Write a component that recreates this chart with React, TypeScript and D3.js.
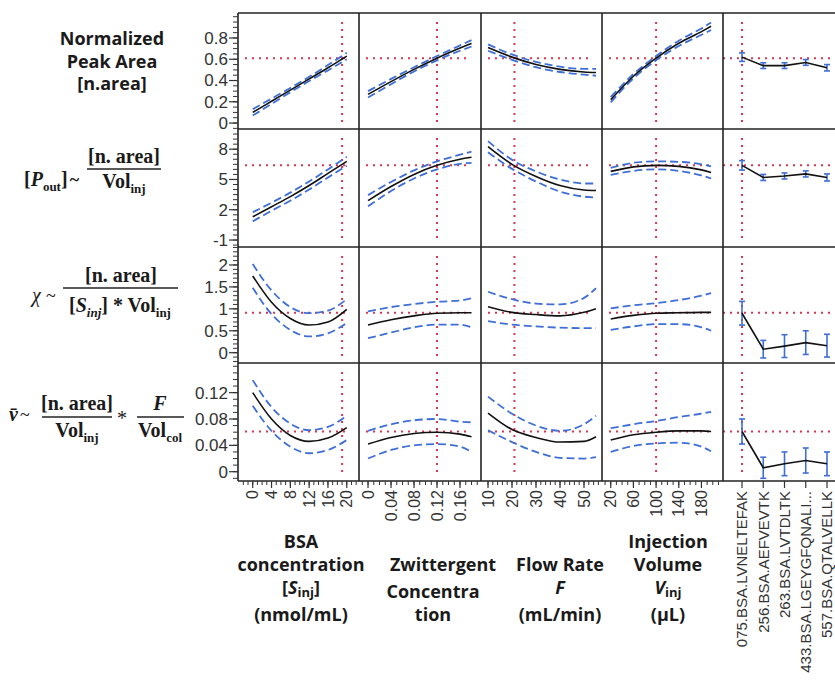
import React from "react";
import * as d3 from "d3";

// factor grids (x values where the profile traces were read)
const bsaX = [0, 4, 8, 12, 16, 20];
const zwitX = [0, 0.04, 0.08, 0.12, 0.16, 0.18];
const flowX = [10, 20, 30, 40, 50, 55];
const injX = [20, 60, 100, 140, 180, 197];
const peptides = ["075.BSA.LVNELTEFAK", "256.BSA.AEFVEVTK", "263.BSA.LVTDLTK", "433.BSA.LGEYGFQNALI...", "557.BSA.QTALVELLK"];

// row 1: normalized peak area
const area_bsa = [0.1, 0.205, 0.31, 0.415, 0.52, 0.63];
const area_bsa_hi = [0.13, 0.23, 0.33, 0.435, 0.545, 0.66];
const area_bsa_lo = [0.07, 0.18, 0.29, 0.395, 0.495, 0.6];
const area_zwit = [0.27, 0.39, 0.505, 0.61, 0.705, 0.75];
const area_zwit_hi = [0.3, 0.415, 0.525, 0.63, 0.73, 0.78];
const area_zwit_lo = [0.24, 0.365, 0.485, 0.59, 0.68, 0.72];
const area_flow = [0.71, 0.62, 0.55, 0.505, 0.48, 0.475];
const area_flow_hi = [0.74, 0.645, 0.575, 0.53, 0.51, 0.51];
const area_flow_lo = [0.68, 0.595, 0.525, 0.48, 0.455, 0.445];
const area_inj = [0.22, 0.44, 0.61, 0.75, 0.86, 0.91];
const area_inj_hi = [0.245, 0.46, 0.63, 0.775, 0.89, 0.945];
const area_inj_lo = [0.195, 0.42, 0.59, 0.725, 0.83, 0.875];
const area_pep = [0.62, 0.54, 0.54, 0.57, 0.52];
const area_pep_err = [0.04, 0.027, 0.027, 0.027, 0.03];

// row 2: [P_out]
const pout_bsa = [1.3, 2.3, 3.3, 4.4, 5.6, 6.8];
const pout_bsa_hi = [1.75, 2.7, 3.7, 4.8, 6.0, 7.25];
const pout_bsa_lo = [0.85, 1.9, 2.9, 4.0, 5.2, 6.35];
const pout_zwit = [2.9, 4.3, 5.5, 6.4, 7.0, 7.2];
const pout_zwit_hi = [3.45, 4.75, 5.9, 6.8, 7.45, 7.75];
const pout_zwit_lo = [2.35, 3.85, 5.1, 6.0, 6.55, 6.65];
const pout_flow = [8.25, 6.5, 5.3, 4.4, 3.95, 3.9];
const pout_flow_hi = [8.8, 6.95, 5.8, 5.0, 4.6, 4.6];
const pout_flow_lo = [7.7, 6.05, 4.8, 3.8, 3.3, 3.2];
const pout_inj = [5.8, 6.25, 6.4, 6.3, 5.95, 5.7];
const pout_inj_hi = [6.15, 6.65, 6.8, 6.75, 6.5, 6.3];
const pout_inj_lo = [5.45, 5.85, 6.0, 5.85, 5.4, 5.1];
const pout_pep = [6.4, 5.2, 5.35, 5.55, 5.2];
const pout_pep_err = [0.47, 0.3, 0.3, 0.3, 0.35];

// row 3: chi
const chi_bsa = [1.75, 1.15, 0.78, 0.63, 0.7, 0.99];
const chi_bsa_hi = [2.02, 1.42, 1.04, 0.9, 0.96, 1.22];
const chi_bsa_lo = [1.48, 0.88, 0.52, 0.37, 0.44, 0.68];
const chi_zwit = [0.63, 0.75, 0.84, 0.9, 0.91, 0.91];
const chi_zwit_hi = [0.94, 1.04, 1.11, 1.16, 1.19, 1.24];
const chi_zwit_lo = [0.33, 0.46, 0.58, 0.64, 0.64, 0.58];
const chi_flow = [1.05, 0.92, 0.87, 0.84, 0.92, 1.0];
const chi_flow_hi = [1.39, 1.22, 1.12, 1.1, 1.25, 1.47];
const chi_flow_lo = [0.72, 0.64, 0.6, 0.57, 0.56, 0.56];
const chi_inj = [0.77, 0.85, 0.9, 0.91, 0.92, 0.92];
const chi_inj_hi = [1.01, 1.08, 1.13, 1.2, 1.3, 1.36];
const chi_inj_lo = [0.52, 0.6, 0.65, 0.65, 0.58, 0.5];
const chi_pep = [0.9, 0.08, 0.15, 0.23, 0.16];
const chi_pep_err = [0.27, 0.2, 0.26, 0.27, 0.26];

// row 4: mean velocity
const vel_bsa = [0.12, 0.08, 0.055, 0.046, 0.051, 0.067];
const vel_bsa_hi = [0.139, 0.098, 0.073, 0.063, 0.068, 0.085];
const vel_bsa_lo = [0.1, 0.062, 0.038, 0.028, 0.033, 0.048];
const vel_zwit = [0.042, 0.052, 0.058, 0.06, 0.057, 0.053];
const vel_zwit_hi = [0.062, 0.072, 0.078, 0.08, 0.076, 0.075];
const vel_zwit_lo = [0.02, 0.033, 0.04, 0.042, 0.038, 0.03];
const vel_flow = [0.089, 0.064, 0.052, 0.045, 0.046, 0.053];
const vel_flow_hi = [0.114, 0.088, 0.07, 0.062, 0.072, 0.085];
const vel_flow_lo = [0.063, 0.045, 0.03, 0.021, 0.02, 0.022];
const vel_inj = [0.048, 0.056, 0.06, 0.062, 0.062, 0.061];
const vel_inj_hi = [0.066, 0.072, 0.077, 0.083, 0.088, 0.091];
const vel_inj_lo = [0.03, 0.039, 0.043, 0.044, 0.038, 0.031];
const vel_pep = [0.061, 0.006, 0.012, 0.017, 0.012];
const vel_pep_err = [0.019, 0.016, 0.018, 0.019, 0.018];

// axis settings
const rowDomains = [[-0.056, 1.035], [-1.69, 10.0], [-0.235, 2.41], [-0.0141, 0.165]];
const rowTicks = [[0, 0.2, 0.4, 0.6, 0.8], [-1, 2, 5, 8], [0, 0.5, 1, 1.5, 2], [0, 0.04, 0.08, 0.12]];
const rowMinor = [0.05, 0.5, 0.1, 0.01];
const rowRef = [0.61, 6.4, 0.91, 0.061];

const colX = [bsaX, zwitX, flowX, injX];
const colDomains = [[-3.13, 22.6], [-0.0157, 0.1965], [7.08, 57.5], [4.6, 218]];
const colTicks = [[0, 4, 8, 12, 16, 20], [0, 0.04, 0.08, 0.12, 0.16], [10, 20, 30, 40, 50], [20, 60, 100, 140, 180]];
const colMinor = [1, 0.01, 2, 10];
const colRef = [19, 0.12, 21, 100];

const traces = [
  [[area_bsa, area_bsa_hi, area_bsa_lo], [area_zwit, area_zwit_hi, area_zwit_lo], [area_flow, area_flow_hi, area_flow_lo], [area_inj, area_inj_hi, area_inj_lo]],
  [[pout_bsa, pout_bsa_hi, pout_bsa_lo], [pout_zwit, pout_zwit_hi, pout_zwit_lo], [pout_flow, pout_flow_hi, pout_flow_lo], [pout_inj, pout_inj_hi, pout_inj_lo]],
  [[chi_bsa, chi_bsa_hi, chi_bsa_lo], [chi_zwit, chi_zwit_hi, chi_zwit_lo], [chi_flow, chi_flow_hi, chi_flow_lo], [chi_inj, chi_inj_hi, chi_inj_lo]],
  [[vel_bsa, vel_bsa_hi, vel_bsa_lo], [vel_zwit, vel_zwit_hi, vel_zwit_lo], [vel_flow, vel_flow_hi, vel_flow_lo], [vel_inj, vel_inj_hi, vel_inj_lo]],
];
const pepVals = [area_pep, pout_pep, chi_pep, vel_pep];
const pepErrs = [area_pep_err, pout_pep_err, chi_pep_err, vel_pep_err];

const colEdges = [238, 359, 481, 602, 723, 850];
const rowEdges = [13, 129, 247, 363, 481];

const BLUE = "#3f6fd6";
const RED = "#dd3550";
const tickFont = "'Liberation Sans', Arial, sans-serif";
const boldFont = "'Open Sans', sans-serif";
const serif = "'Liberation Serif', serif";

const fmt = (v: number) => String(+v.toFixed(3));

const App = () => {
  const ys = rowDomains.map((d, r) => d3.scaleLinear().domain(d).range([rowEdges[r + 1], rowEdges[r]]));
  const xs = colDomains.map((d, c) => d3.scaleLinear().domain(d).range([colEdges[c], colEdges[c + 1]]));
  const xp = d3.scalePoint<string>().domain(peptides).range([742, 827]);
  const bottom = rowEdges[4];

  const panels: React.ReactNode[] = [];
  ys.forEach((y, r) => {
    const top = rowEdges[r], bot = rowEdges[r + 1];
    xs.forEach((x, c) => {
      const left = colEdges[c], right = colEdges[c + 1];
      const line = d3
        .line<number>()
        .x((_, i) => x(colX[c][i]))
        .y((d) => y(d))
        .curve(d3.curveMonotoneX);
      const [mid, hi, lo] = traces[r][c];
      panels.push(
        <g key={`p${r}-${c}`}>
          <line x1={left + 7} x2={right - 10} y1={y(rowRef[r])} y2={y(rowRef[r])} stroke={RED} strokeWidth={2} strokeDasharray="2,5" />
          <line x1={x(colRef[c])} x2={x(colRef[c])} y1={top + 9} y2={bot - 6} stroke={RED} strokeWidth={2} strokeDasharray="2,5" />
          <path d={line(hi) || ""} fill="none" stroke={BLUE} strokeWidth={1.8} strokeDasharray="8,4" />
          <path d={line(lo) || ""} fill="none" stroke={BLUE} strokeWidth={1.8} strokeDasharray="8,4" />
          <path d={line(mid) || ""} fill="none" stroke="#111" strokeWidth={1.6} />
        </g>
      );
    });
    // categorical panel
    const vals = pepVals[r];
    const errs = pepErrs[r];
    const catLine = d3
      .line<number>()
      .x((_, i) => xp(peptides[i]) as number)
      .y((d) => y(d));
    panels.push(
      <g key={`c${r}`}>
        <line x1={colEdges[4]} x2={835} y1={y(rowRef[r])} y2={y(rowRef[r])} stroke={RED} strokeWidth={2} strokeDasharray="2,5" />
        <line x1={xp(peptides[0])} x2={xp(peptides[0])} y1={top + 9} y2={bot - 6} stroke={RED} strokeWidth={2} strokeDasharray="2,5" />
        {vals.map((v, i) => {
          const cx = xp(peptides[i]) as number;
          return (
            <g key={i} stroke={BLUE} strokeWidth={1.6}>
              <line x1={cx} x2={cx} y1={y(v + errs[i])} y2={y(v - errs[i])} />
              <line x1={cx - 3} x2={cx + 3} y1={y(v + errs[i])} y2={y(v + errs[i])} />
              <line x1={cx - 3} x2={cx + 3} y1={y(v - errs[i])} y2={y(v - errs[i])} />
            </g>
          );
        })}
        <path d={catLine(vals) || ""} fill="none" stroke="#111" strokeWidth={1.6} />
      </g>
    );
  });

  // y axes
  const yAxes = ys.map((y, r) => {
    const [d0, d1] = rowDomains[r];
    const step = rowMinor[r];
    const minor = d3.range(Math.ceil(d0 / step) * step, d1, step);
    return (
      <g key={`ya${r}`}>
        {minor.map((v, i) => (
          <line key={i} x1={colEdges[0] - 5} x2={colEdges[0]} y1={y(v)} y2={y(v)} stroke="#333" strokeWidth={1} />
        ))}
        {rowTicks[r].map((v) => (
          <g key={v}>
            <line x1={colEdges[0] - 9} x2={colEdges[0]} y1={y(v)} y2={y(v)} stroke="#333" strokeWidth={1.2} />
            <text x={colEdges[0] - 10} y={y(v)} dy="0.35em" textAnchor="end" fontSize={17} fontFamily={tickFont} fill="#333">
              {fmt(v)}
            </text>
          </g>
        ))}
      </g>
    );
  });

  // x axes
  const xAxes = xs.map((x, c) => {
    const [d0, d1] = colDomains[c];
    const step = colMinor[c];
    const minor = d3.range(Math.ceil((d0 + step * 0.5) / step) * step, d1 - step * 0.5, step);
    return (
      <g key={`xa${c}`}>
        {minor.map((v, i) => (
          <line key={i} x1={x(v)} x2={x(v)} y1={bottom} y2={bottom + 4} stroke="#333" strokeWidth={1} />
        ))}
        {colTicks[c].map((v) => (
          <g key={v}>
            <line x1={x(v)} x2={x(v)} y1={bottom} y2={bottom + 7} stroke="#333" strokeWidth={1.2} />
            <text transform={`translate(${x(v)},${bottom + 9}) rotate(-90)`} dy="0.35em" textAnchor="end" fontSize={16} fontFamily={tickFont} fill="#333">
              {fmt(v)}
            </text>
          </g>
        ))}
      </g>
    );
  });

  const pepAxis = (
    <g>
      {peptides.map((p) => (
        <g key={p}>
          <line x1={xp(p)} x2={xp(p)} y1={bottom} y2={bottom + 7} stroke="#333" strokeWidth={1.2} />
          <text transform={`translate(${xp(p)},${bottom + 10}) rotate(-90)`} dy="0.35em" textAnchor="end" fontSize={15} fontFamily={tickFont} fill="#333">
            {p}
          </text>
        </g>
      ))}
    </g>
  );

  const frame = (
    <g stroke="#222" strokeWidth={1.6} fill="none">
      {rowEdges.map((e, i) => (
        <line key={`h${i}`} x1={colEdges[0]} x2={835} y1={e} y2={e} />
      ))}
      {colEdges.slice(0, 5).map((e, i) => (
        <line key={`v${i}`} x1={e} x2={e} y1={rowEdges[0]} y2={bottom} />
      ))}
    </g>
  );

  const sub = { fontSize: 13 };

  return (
    <div style={{ position: "absolute", left: 0, top: 0 }}>
      <svg width={835} height={688} style={{ display: "block", background: "#fff" }}>
        {panels}
        {frame}
        {yAxes}
        {xAxes}
        {pepAxis}

        {/* row titles */}
        <g fontFamily={boldFont} fontWeight="bold" fontSize={18} fill="#1a1a1a" textAnchor="middle">
          <text x={112} y={45}>Normalized</text>
          <text x={112} y={68}>Peak Area</text>
          <text x={112} y={90}>[n.area]</text>
        </g>
        <g fontFamily={serif} fontWeight="bold" fontSize={20} fill="#1a1a1a">
          <text x={24} y={186}>
            [<tspan fontStyle="italic">P</tspan>
            <tspan dy={5} {...sub}>out</tspan>
            <tspan dy={-5}>]</tspan>
            <tspan fontSize={18} dx={2}>~</tspan>
          </text>
          <text x={124} y={163} textAnchor="middle">[n. area]</text>
          <line x1={87} x2={161} y1={169} y2={169} stroke="#222" strokeWidth={1.3} />
          <text x={124} y={188} textAnchor="middle">
            Vol<tspan dy={5} {...sub}>inj</tspan>
          </text>

          <text x={32} y={302} fontStyle="italic" fontWeight="normal">χ</text>
          <text x={46} y={302} fontSize={18} fontWeight="normal">~</text>
          <text x={121} y={282} textAnchor="middle">[n. area]</text>
          <line x1={63} x2={178} y1={288} y2={288} stroke="#222" strokeWidth={1.3} />
          <text x={120} y={312} textAnchor="middle">
            [<tspan fontStyle="italic">S</tspan>
            <tspan dy={5} fontStyle="italic" {...sub}>inj</tspan>
            <tspan dy={-5}>] * Vol</tspan>
            <tspan dy={5} {...sub}>inj</tspan>
          </text>

          <text x={9} y={421} fontStyle="italic">v̄</text>
          <text x={20} y={421} fontSize={18} fontWeight="normal">~</text>
          <text x={77} y={410} textAnchor="middle">[n. area]</text>
          <line x1={42} x2={112} y1={417} y2={417} stroke="#222" strokeWidth={1.3} />
          <text x={77} y={437} textAnchor="middle">
            Vol<tspan dy={5} {...sub}>inj</tspan>
          </text>
          <text x={122} y={425} textAnchor="middle" fontWeight="normal">*</text>
          <text x={160} y={410} textAnchor="middle" fontStyle="italic">F</text>
          <line x1={137} x2={184} y1={417} y2={417} stroke="#222" strokeWidth={1.3} />
          <text x={160} y={437} textAnchor="middle">
            Vol<tspan dy={5} {...sub}>col</tspan>
          </text>
        </g>

        {/* factor titles */}
        <g fontFamily={boldFont} fontWeight="bold" fontSize={18} fill="#1a1a1a" textAnchor="middle">
          <text x={301} y={548}>BSA</text>
          <text x={301} y={571}>concentration</text>
          <text x={301} y={594}>
            [<tspan fontStyle="italic">S</tspan>
            <tspan dy={3} fontSize={13}>inj</tspan>
            <tspan dy={-3}>]</tspan>
          </text>
          <text x={301} y={621}>(nmol/mL)</text>

          <text x={443} y={571}>Zwittergent</text>
          <text x={433} y={598}>Concentra</text>
          <text x={433} y={621}>tion</text>

          <text x={560} y={571}>Flow Rate</text>
          <text x={560} y={594} fontStyle="italic">F</text>
          <text x={560} y={621}>(mL/min)</text>

          <text x={668} y={548}>Injection</text>
          <text x={668} y={571}>Volume</text>
          <text x={668} y={594}>
            <tspan fontStyle="italic">V</tspan>
            <tspan dy={3} fontSize={13}>inj</tspan>
          </text>
          <text x={668} y={621}>(µL)</text>
        </g>
      </svg>
    </div>
  );
};

export default App;
